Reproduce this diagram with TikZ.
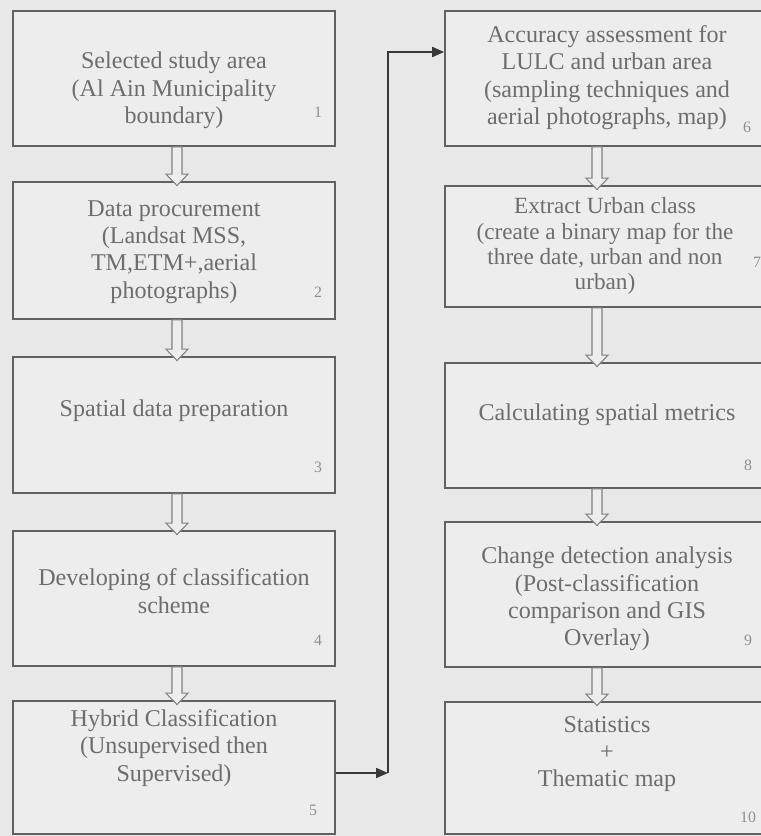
\documentclass[tikz,border=0pt]{standalone}
\usepackage{fontspec}
\setmainfont{Liberation Serif}
\usetikzlibrary{arrows.meta,calc}
\definecolor{paper}{HTML}{E8E8E8}
\definecolor{panel}{HTML}{EDEDED}
\definecolor{edge}{HTML}{616161}
\definecolor{ink}{HTML}{6D6D6D}
\definecolor{tag}{HTML}{8E8E8E}
\definecolor{wire}{HTML}{383838}

% outlined down arrow between two stacked boxes
\newcommand{\hollowdown}[3]{%
  \draw[hollow] let \p1=(#1.south -| #3), \p2=(#2.north -| #3) in
    (\x1-2.85pt,\y1) -- (\x1-2.85pt,\y2+4pt) -- (\x1-6.3pt,\y2+4pt) -- (\x1,\y2-2.5pt)
    -- (\x1+6.3pt,\y2+4pt) -- (\x1+2.85pt,\y2+4pt) -- (\x1+2.85pt,\y1) -- cycle;}

\begin{document}
\begin{tikzpicture}[x=0.02cm,y=-0.02cm,
  font=\fontsize{13.7}{15.6}\selectfont, text=ink,
  box/.style={draw=edge,line width=1pt,fill=panel,minimum width=6.44cm,inner sep=0pt},
  txt/.style={align=center,inner sep=0pt},
  num/.style={font=\fontsize{9}{10}\selectfont,text=tag,inner sep=0pt},
  hollow/.style={draw=edge!80,line width=.6pt,fill=panel},
  link/.style={draw=wire,line width=1pt},
  flow/.style={link,-{Triangle[length=6.8pt,width=5.7pt]}},
]
\useasboundingbox[fill=paper] (0,0) rectangle (761,836);
\begin{scope}
\clip (0,0) rectangle (761,836);

\foreach \id/\x/\y/\h in {area/174/78.5/2.70, procure/174/250.5/2.74, prep/174/425/2.72,
  scheme/174/598.5/2.70, hybrid/174/767.5/2.66, accuracy/606/78.5/2.70, extract/606/246.5/2.42,
  metrics/606/425.5/2.50, change/606/594.5/2.90, stats/606/768/2.64}
  \node[box,minimum height=\h cm] (\id) at (\x,\y) {};

\node[txt] (areatext) at (174,90.5) {Selected study area\\(Al Ain Municipality\\boundary)};
\node[txt] (procuretext) at (174,252) {Data procurement\\(Landsat MSS,\\TM,ETM+,aerial\\photographs)};
\node[txt] (preptext) at (174,411) {Spatial data preparation};
\node[txt] (schemetext) at (174,591) {Developing of classification\\scheme};
\node[txt] (hybridtext) at (174,748) {Hybrid Classification\\(Unsupervised then\\Supervised)};
\node[txt] (accuracytext) at (607,77.5) {Accuracy assessment for\\LULC and urban area\\(sampling techniques and\\aerial photographs, map)};
\node[txt,font=\fontsize{13.2}{14.3}\selectfont] (extracttext) at (605,246) {Extract Urban class\\(create a binary map for the\\three date, urban and non\\urban)};
\node[txt] (metricstext) at (607,415) {Calculating spatial metrics};
\node[txt] (changetext) at (607,599) {Change detection analysis\\(Post-classification\\comparison and GIS\\Overlay)};
\node[txt] (statstext) at (607,754) {Statistics\\+\\Thematic map};

\foreach \n/\x/\y in {1/318/112, 2/318/292, 3/318/467, 4/318/640, 5/313/810,
  6/747/127, 7/757/262, 8/748/465, 9/748/640, 10/748/817}
  \node[num] (tag\n) at (\x,\y) {\n};

\coordinate (lcol) at (177,0);
\coordinate (rcol) at (597,0);
\foreach \a/\b/\c in {area/procure/lcol, procure/prep/lcol, prep/scheme/lcol, scheme/hybrid/lcol,
  accuracy/extract/rcol, extract/metrics/rcol, metrics/change/rcol, change/stats/rcol}
  \hollowdown{\a}{\b}{\c};

\coordinate (lowturn) at (388,773);
\coordinate (highturn) at (388,52);
\draw[flow] (hybrid.east |- lowturn) -- (lowturn);
\draw[flow] (lowturn) -- (highturn) -- (accuracy.west |- highturn);
\end{scope}
\end{tikzpicture}
\end{document}
